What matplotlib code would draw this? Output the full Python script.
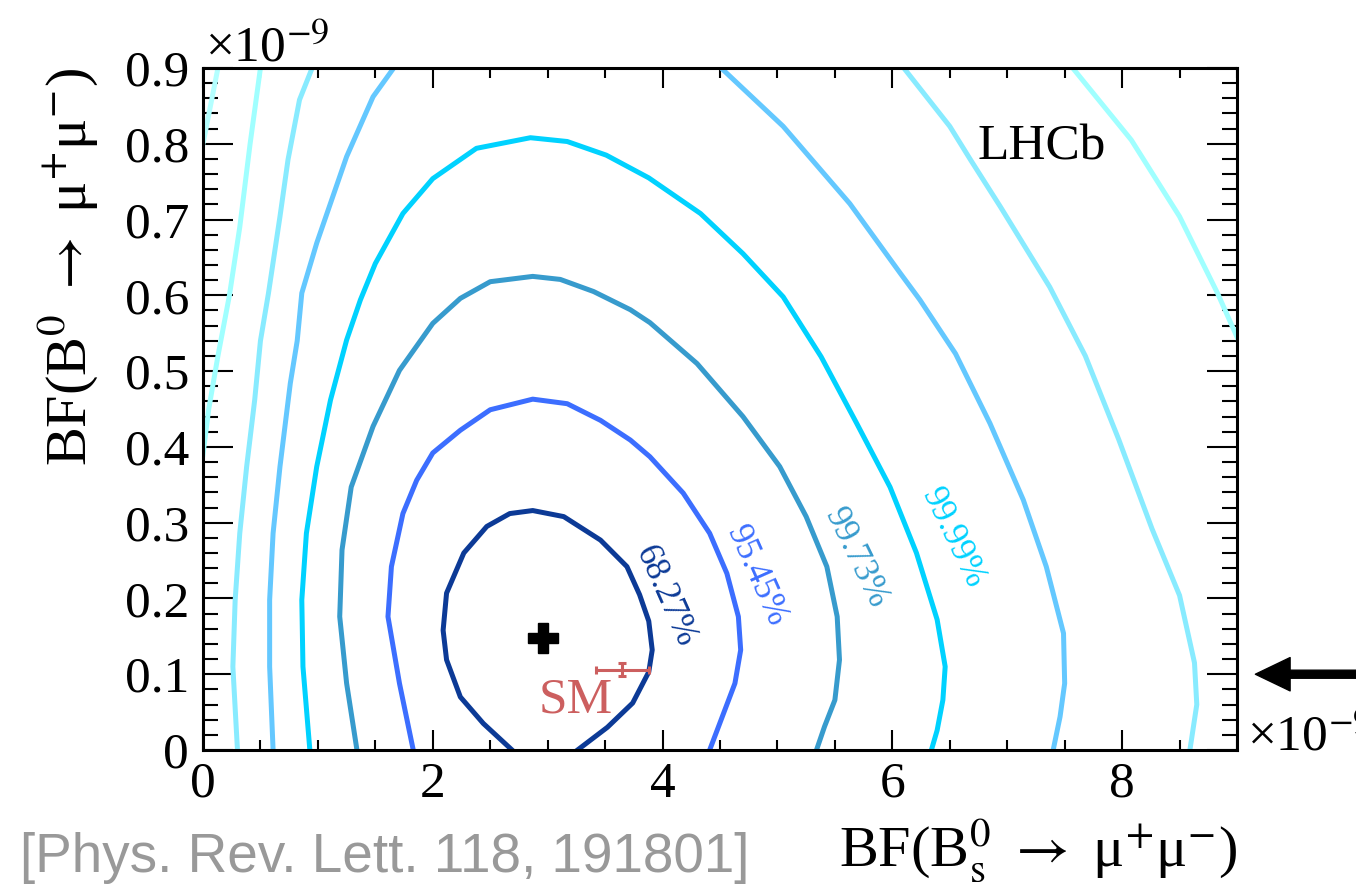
import numpy as np
import matplotlib
matplotlib.use('Agg')
import matplotlib.pyplot as plt
from matplotlib.ticker import MultipleLocator, FuncFormatter

plt.rcParams['font.family'] = ['Liberation Serif', 'DejaVu Serif']
plt.rcParams['mathtext.fontset'] = 'stix'

# profile-likelihood contours, BF(Bs) on x and BF(B0) on y, both in units of 1e-9
c68_x = [2.69, 2.44, 2.24, 2.12, 2.09, 2.12, 2.27, 2.47, 2.67, 2.87, 3.14, 3.46, 3.69,
         3.80, 3.88, 3.91, 3.88, 3.74, 3.52, 3.26]
c68_y = [0.0, 0.035, 0.070, 0.119, 0.158, 0.207, 0.260, 0.295, 0.312, 0.316, 0.308, 0.277, 0.242,
         0.205, 0.170, 0.132, 0.103, 0.062, 0.030, 0.0]

c95_x = [1.83, 1.71, 1.61, 1.64, 1.74, 1.86, 2.00, 2.24, 2.50, 2.87, 3.17, 3.46, 3.72, 3.89,
         4.18, 4.41, 4.56, 4.66, 4.68, 4.63, 4.51, 4.41]
c95_y = [0.0, 0.088, 0.176, 0.242, 0.312, 0.356, 0.392, 0.422, 0.449, 0.463, 0.457, 0.435, 0.409, 0.387,
         0.339, 0.286, 0.233, 0.176, 0.132, 0.088, 0.040, 0.0]

c997_x = [1.34, 1.25, 1.19, 1.21, 1.29, 1.48, 1.71, 2.00, 2.24, 2.50, 2.87, 3.11, 3.40, 3.72, 3.89,
          4.30, 4.70, 5.02, 5.25, 5.43, 5.52, 5.54, 5.50, 5.41, 5.34]
c997_y = [0.0, 0.088, 0.176, 0.264, 0.347, 0.427, 0.501, 0.563, 0.596, 0.618, 0.625, 0.621, 0.605, 0.581, 0.564,
          0.510, 0.440, 0.374, 0.308, 0.242, 0.176, 0.119, 0.066, 0.031, 0.0]

c9999_x = [0.93, 0.87, 0.86, 0.90, 0.99, 1.11, 1.25, 1.37, 1.50, 1.74, 2.00, 2.38, 2.85, 3.17, 3.51, 3.88,
           4.33, 4.70, 5.05, 5.38, 5.69, 5.98, 6.21, 6.39, 6.46, 6.44, 6.39, 6.34]
c9999_y = [0.0, 0.110, 0.198, 0.286, 0.374, 0.462, 0.541, 0.594, 0.642, 0.708, 0.754, 0.794, 0.808, 0.803, 0.785, 0.755,
           0.708, 0.655, 0.598, 0.519, 0.431, 0.347, 0.260, 0.172, 0.110, 0.066, 0.026, 0.0]

# outer levels only cross the plotting window in two separate pieces
c5_left_x = [0.61, 0.58, 0.58, 0.61, 0.67, 0.76, 0.82, 0.86, 0.99, 1.25, 1.48, 1.66]
c5_left_y = [0.0, 0.110, 0.198, 0.286, 0.374, 0.484, 0.540, 0.603, 0.669, 0.783, 0.862, 0.900]
c5_right_x = [4.51, 5.05, 5.63, 6.07, 6.24, 6.55, 6.85, 7.14, 7.34, 7.49, 7.50, 7.46, 7.40]
c5_right_y = [0.900, 0.823, 0.721, 0.629, 0.594, 0.523, 0.431, 0.330, 0.242, 0.154, 0.088, 0.044, 0.0]

c6_left_x = [0.30, 0.26, 0.28, 0.32, 0.38, 0.45, 0.50, 0.57, 0.67, 0.74, 0.84, 0.95]
c6_left_y = [0.0, 0.110, 0.198, 0.286, 0.374, 0.462, 0.540, 0.603, 0.704, 0.779, 0.858, 0.900]
c6_right_x = [6.10, 6.50, 6.68, 6.94, 7.37, 7.68, 7.97, 8.26, 8.50, 8.63, 8.65, 8.59]
c6_right_y = [0.900, 0.823, 0.779, 0.717, 0.611, 0.520, 0.410, 0.292, 0.204, 0.115, 0.060, 0.0]

c7_left_x = [0.50, 0.41, 0.32, 0.23, 0.13, 0.05, 0.0]
c7_left_y = [0.90, 0.80, 0.69, 0.60, 0.52, 0.45, 0.39]
c7_right_x = [7.57, 8.08, 8.50, 8.83, 9.0]
c7_right_y = [0.900, 0.805, 0.704, 0.603, 0.545]

c8_x = [0.13, 0.0]
c8_y = [0.90, 0.80]

best_fit = (2.96, 0.148)
sm_bs, sm_bs_err = 3.65, 0.23
sm_bd, sm_bd_err = 0.106, 0.009

level_names = ['68.27%', '95.45%', '99.73%', '99.99%']
level_colors = ['#0c3a96', '#3c6eff', '#379bcd', '#00d2ff', '#64c8ff', '#88ebff', '#a0ffff', '#b4ffff']

fig = plt.figure(figsize=(13.56, 8.88), dpi=100)
ax = fig.add_axes([203 / 1356, 1 - 750 / 888, 1034 / 1356, 682 / 888])

lw = 3.6
ax.plot(c68_x, c68_y, color=level_colors[0], lw=lw)
ax.plot(c95_x, c95_y, color=level_colors[1], lw=lw)
ax.plot(c997_x, c997_y, color=level_colors[2], lw=lw)
ax.plot(c9999_x, c9999_y, color=level_colors[3], lw=lw)
ax.plot(c5_left_x, c5_left_y, color=level_colors[4], lw=lw)
ax.plot(c5_right_x, c5_right_y, color=level_colors[4], lw=lw)
ax.plot(c6_left_x, c6_left_y, color=level_colors[5], lw=lw)
ax.plot(c6_right_x, c6_right_y, color=level_colors[5], lw=lw)
ax.plot(c7_left_x, c7_left_y, color=level_colors[6], lw=lw)
ax.plot(c7_right_x, c7_right_y, color=level_colors[6], lw=lw)
ax.plot(c8_x, c8_y, color=level_colors[7], lw=lw)

# level labels sit in the gap just outside each contour
label_pos = [(4.02, 0.202), (4.82, 0.229), (5.68, 0.253), (6.53, 0.279)]
label_rot = [-66, -66, -64, -64]
for name, (lx, ly), rot, col in zip(level_names, label_pos, label_rot, level_colors):
    ax.text(lx, ly, name, color=col, fontsize=25, rotation=rot,
            rotation_mode='anchor', ha='center', va='center')

ax.plot(*best_fit, marker='P', ms=22, color='black', ls='none')

sm_col = '#cc5f5f'
ax.errorbar(sm_bs, sm_bd, xerr=sm_bs_err, yerr=sm_bd_err, fmt='none', ecolor=sm_col,
            elinewidth=2.2, capsize=2.8, capthick=2.2)
ax.text(3.24, 0.065, 'SM', color=sm_col, fontsize=37, ha='center', va='center')

ax.text(7.30, 0.779, 'LHCb', fontsize=37, ha='center', va='baseline')

ax.set_xlim(0, 9)
ax.set_ylim(0, 0.9)
ax.xaxis.set_major_locator(MultipleLocator(2))
ax.xaxis.set_minor_locator(MultipleLocator(0.5))
ax.yaxis.set_major_locator(MultipleLocator(0.1))
ax.yaxis.set_minor_locator(MultipleLocator(0.02))
ax.yaxis.set_major_formatter(FuncFormatter(lambda v, p: '0' if abs(v) < 1e-9 else f'{v:.1f}'))
ax.xaxis.set_major_formatter(FuncFormatter(lambda v, p: f'{v:.0f}'))

ax.tick_params(which='both', direction='in', top=True, right=True, labelsize=37, width=1.5)
ax.tick_params(axis='x', which='major', length=14.4, pad=8)
ax.tick_params(axis='x', which='minor', length=7.2)
ax.tick_params(axis='y', which='major', length=21.6, pad=10)
ax.tick_params(axis='y', which='minor', length=10.8)
for sp in ax.spines.values():
    sp.set_linewidth(2.2)

ax.set_xlabel(r'BF(B$^{0}_{\mathrm{s}}$ $\rightarrow$ μ$^{+}$μ$^{-}$)', fontsize=42)
ax.xaxis.label.set_ha('right')
ax.xaxis.label.set_va('baseline')
ax.xaxis.set_label_coords(1.0, -0.170)

ax.set_ylabel(r'BF(B$^{0}$ $\rightarrow$ μ$^{+}$μ$^{-}$)', fontsize=42, loc='top')
ax.yaxis.label.set_va('baseline')
ax.yaxis.set_label_coords(-0.112, 1.0)

fig.text(205 / 1356, 1 - 62 / 888, r'×10$^{-9}$', fontsize=37, ha='left', va='baseline')
fig.text(1247 / 1356, 1 - 750 / 888, r'×10$^{-9}$', fontsize=37, ha='left', va='baseline')

fig.text(20 / 1356, 1 - 872 / 888, '[Phys. Rev. Lett. 118, 191801]', fontsize=39.5,
         family=['Liberation Sans', 'DejaVu Sans'], color='#999999', ha='left', va='baseline')

ax.annotate('', xy=(9.16, 0.1), xytext=(10.2, 0.1), annotation_clip=False,
            arrowprops=dict(facecolor='black', edgecolor='black', width=5.8,
                            headwidth=24, headlength=25, shrink=0))

fig.savefig('out.png', dpi=100)
